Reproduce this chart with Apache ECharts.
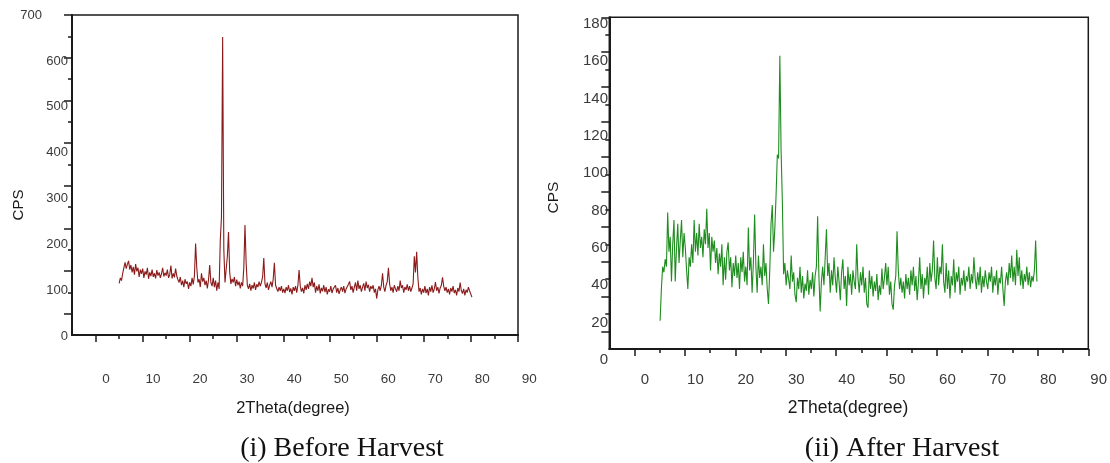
<!DOCTYPE html>
<html><head><meta charset="utf-8">
<script src="https://cdn.jsdelivr.net/npm/echarts@6/dist/echarts.min.js"></script>
<style>html,body{margin:0;padding:0;background:#fff}#c{width:1110px;height:463px}</style>
</head><body><div id="c"></div>
<script>
// ---- data (2Theta grid: start + i*step) ----
const beforeStart = 2.8, afterStart = 3.0, thetaStep = 0.25;
const xTickLabels = [0,10,20,30,40,50,60,70,80,90];
const beforeYTicks = [0,100,200,300,400,500,600,700];
const afterYTicks = [0,20,40,60,80,100,120,140,160,180];

const beforeCps = [
116,128,122,138,150,162,148,158,165,146,156,140,152,135,158,142,150,130,146,137,
148,128,142,135,150,126,140,132,146,130,138,127,145,133,140,128,137,150,131,139,
133,146,128,135,155,127,138,129,148,132,124,118,130,112,122,108,125,115,120,104,
118,110,128,114,132,203,150,118,125,108,138,120,128,112,122,105,124,156,118,110,
128,108,122,100,118,104,210,260,652,190,118,122,175,228,140,115,126,118,130,110,
124,112,120,105,118,110,150,243,160,112,104,115,100,112,105,118,102,114,108,120,
110,118,130,171,115,106,118,102,112,120,108,125,161,112,105,98,108,100,110,96,
104,95,108,100,112,97,105,92,108,100,110,96,112,145,110,98,106,94,112,102,
115,104,120,110,128,108,118,96,110,100,114,94,106,99,112,97,108,92,103,98,
110,95,104,100,112,96,106,93,102,108,98,110,95,104,100,114,120,102,110,96,
108,118,100,122,104,112,98,108,116,100,120,106,113,98,110,104,112,96,104,83,
102,110,100,112,138,108,98,112,120,150,115,100,108,96,112,104,98,110,100,122,
106,112,96,108,102,114,100,110,98,106,115,175,140,185,130,98,106,92,104,96,
110,95,104,90,108,98,112,96,104,119,100,108,94,106,112,129,110,100,108,96,
104,92,106,98,110,95,102,90,106,98,118,100,94,104,90,102,96,108,100,104,
86];

const afterCps = [
21,38,50,47,54,50,79,58,66,42,62,75,42,60,73,52,64,75,55,68,
60,48,38,55,50,62,52,75,58,68,56,73,60,66,55,70,62,81,60,68,
48,66,58,64,52,60,46,57,50,62,40,55,43,58,63,48,55,39,52,45,
56,44,52,38,55,47,58,42,50,40,71,48,55,36,52,78,50,36,56,44,
50,40,62,45,52,38,30,48,73,83,58,70,88,110,108,163,112,85,46,52,
40,48,43,38,56,42,47,35,31,44,38,50,36,45,33,41,37,48,35,43,
38,47,34,45,50,77,45,26,42,50,40,55,70,45,52,36,48,40,55,44,
36,50,42,32,47,54,38,45,29,50,40,46,35,48,42,38,62,44,36,47,
40,50,36,44,30,28,48,38,45,34,42,37,46,32,40,35,49,38,44,52,
40,50,35,42,30,27,40,45,69,48,38,44,36,42,33,46,38,44,35,48,
40,50,37,45,32,42,55,38,46,33,44,40,50,35,52,42,48,64,44,38,
55,40,50,46,62,42,36,52,38,48,33,45,40,54,36,47,42,50,35,44,
40,48,37,45,42,50,38,46,41,55,44,38,47,40,50,36,45,39,48,42,
38,47,42,50,36,45,40,48,35,44,41,50,38,29,42,47,40,52,44,56,
42,50,40,59,45,55,40,48,38,46,42,50,40,47,39,45,42,48,64,42];

// ---- helpers ----
const toPairs = (arr, start) => arr.map((v, i) => [+(start + i * thetaStep).toFixed(2), v]);
const evens = n => { const a = []; for (let k = 2; k < n; k += 2) a.push(k); return a; };
const odds = n => { const a = []; for (let k = 1; k <= n; k += 2) a.push(k); return a; };

const INK = '#1a1a1a';
const LBL = '#3a3a3a';
const SANS = '"Liberation Sans", Arial, sans-serif';
const SERIF = '"Liberation Serif", "Times New Roman", serif';
const lineStyleAxis = { color: INK, width: 2 };
const tickStyle = { color: INK, width: 1.5 };

function frameX(grid, n, shortLen, longLen) {
  return [
    { gridIndex: grid, type: 'value', position: 'bottom', min: 0, max: n,
      axisLine: { show: true, onZero: false, lineStyle: lineStyleAxis },
      axisTick: { show: true, customValues: evens(n), length: shortLen, lineStyle: tickStyle },
      axisLabel: { show: false }, splitLine: { show: false } },
    { gridIndex: grid, type: 'value', position: 'bottom', min: 0, max: n,
      axisLine: { show: false, onZero: false },
      axisTick: { show: true, customValues: odds(n), length: longLen, lineStyle: tickStyle },
      axisLabel: { show: false }, splitLine: { show: false } }
  ];
}
function frameY(grid, n, shortLen, longLen) {
  return [
    { gridIndex: grid, type: 'value', position: 'left', min: 0, max: n,
      axisLine: { show: true, onZero: false, lineStyle: lineStyleAxis },
      axisTick: { show: true, customValues: evens(n), length: shortLen, lineStyle: tickStyle },
      axisLabel: { show: false }, splitLine: { show: false } },
    { gridIndex: grid, type: 'value', position: 'left', min: 0, max: n,
      axisLine: { show: false, onZero: false },
      axisTick: { show: true, customValues: odds(n), length: longLen, lineStyle: tickStyle },
      axisLabel: { show: false }, splitLine: { show: false } }
  ];
}

const chart = echarts.init(document.getElementById('c'));
chart.setOption({
  animation: false,
  backgroundColor: '#fff',
  grid: [
    { left: 72, top: 15, width: 446, height: 320, show: true, borderColor: INK, borderWidth: 1.5 },
    { left: 106, top: 15, width: 423.3, height: 321.7 },
    { left: 609.3, top: 17.3, width: 479, height: 331.7, show: true, borderColor: INK, borderWidth: 1.5 },
    { left: 645, top: 24, width: 454.3, height: 336 }
  ],
  xAxis: [
    ...frameX(0, 19, 4, 7),
    { gridIndex: 1, type: 'value', position: 'bottom', min: 0, max: 90, interval: 10,
      axisLine: { show: false, onZero: false }, axisTick: { show: false },
      axisLabel: { customValues: xTickLabels, margin: 36, fontSize: 13.5, color: LBL, fontFamily: SANS },
      splitLine: { show: false } },
    ...frameX(2, 19, 4, 7),
    { gridIndex: 3, type: 'value', position: 'bottom', min: 0, max: 90, interval: 10,
      axisLine: { show: false, onZero: false }, axisTick: { show: false },
      axisLabel: { customValues: xTickLabels, margin: 12.5, fontSize: 15, color: LBL, fontFamily: SANS },
      splitLine: { show: false } }
  ],
  yAxis: [
    ...frameY(0, 15, 4, 8),
    { gridIndex: 1, type: 'value', position: 'left', min: 0, max: 700, interval: 100,
      axisLine: { show: false, onZero: false }, axisTick: { show: false },
      axisLabel: { customValues: beforeYTicks, margin: 38, fontSize: 13, color: LBL, fontFamily: SANS,
        formatter: v => v === 700 ? '{top|700}' : String(v),
        rich: { top: { fontSize: 13, color: LBL, fontFamily: SANS, padding: [0, 26, 0, 0] } } },
      splitLine: { show: false } },
    ...frameY(2, 19, 4, 8),
    { gridIndex: 3, type: 'value', position: 'left', min: 0, max: 180, interval: 20,
      axisLine: { show: false, onZero: false }, axisTick: { show: false },
      axisLabel: { customValues: afterYTicks, margin: 37, fontSize: 15, color: LBL, fontFamily: SANS },
      splitLine: { show: false } }
  ],
  series: [
    { type: 'line', name: 'Before Harvest', xAxisIndex: 2, yAxisIndex: 2,
      data: toPairs(beforeCps, beforeStart), showSymbol: false, symbol: 'none',
      lineStyle: { color: '#8b1a1a', width: 1.1 } },
    { type: 'line', name: 'After Harvest', xAxisIndex: 5, yAxisIndex: 5,
      data: toPairs(afterCps, afterStart), showSymbol: false, symbol: 'none',
      lineStyle: { color: '#1e8c1e', width: 1.1 } }
  ],
  graphic: [
    { type: 'text', x: 293, y: 408, style: { text: '2Theta(degree)', font: '16.5px ' + SANS, fill: INK, align: 'center', verticalAlign: 'middle' } },
    { type: 'text', x: 848, y: 408, style: { text: '2Theta(degree)', font: '17.5px ' + SANS, fill: INK, align: 'center', verticalAlign: 'middle' } },
    { type: 'text', x: 18.5, y: 205, rotation: Math.PI / 2, style: { text: 'CPS', font: '15px ' + SANS, fill: INK, align: 'center', verticalAlign: 'middle' } },
    { type: 'text', x: 553.5, y: 197.5, rotation: Math.PI / 2, style: { text: 'CPS', font: '15.5px ' + SANS, fill: INK, align: 'center', verticalAlign: 'middle' } },
    { type: 'text', x: 342, y: 449, style: { text: '(i) Before Harvest', font: '28px ' + SERIF, fill: '#111', align: 'center', verticalAlign: 'middle' } },
    { type: 'text', x: 902, y: 449, style: { text: '(ii) After Harvest', font: '28px ' + SERIF, fill: '#111', align: 'center', verticalAlign: 'middle' } }
  ]
});
</script></body></html>
